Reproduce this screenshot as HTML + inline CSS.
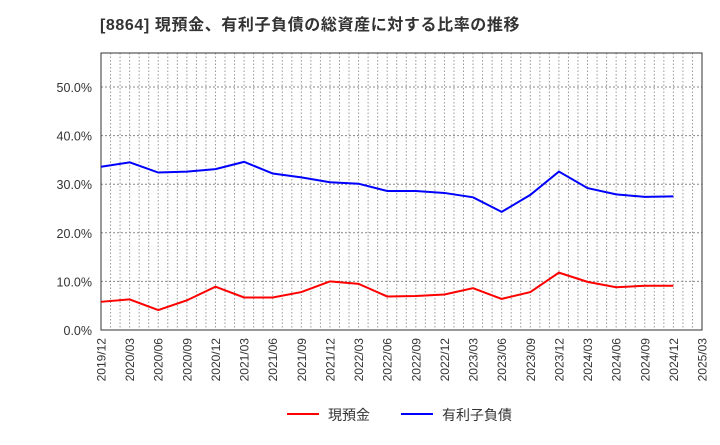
<!DOCTYPE html>
<html><head><meta charset="utf-8"><style>
body{margin:0;background:#fff;font-family:"Liberation Sans","Noto Sans CJK JP",sans-serif;}
</style></head><body>
<svg id="c" width="720" height="440" xmlns="http://www.w3.org/2000/svg">
<text x="100" y="30" font-size="16" font-weight="bold" fill="#333" letter-spacing="0.6" font-family="Liberation Sans, Noto Sans CJK JP, sans-serif">[8864]  現預金、有利子負債の総資産に対する比率の推移</text>
<g id="grid"></g><g id="axes"></g><g id="series"></g>
<g>
<line x1="287" y1="414" x2="319" y2="414" stroke="#f00" stroke-width="2"/>
<text x="328" y="420" font-size="14" fill="#333">現預金</text>
<line x1="401" y1="414" x2="433" y2="414" stroke="#00f" stroke-width="2"/>
<text x="442" y="420" font-size="14" fill="#333">有利子負債</text>
</g>
</svg>
<script>
const categories=["2019/12","2020/03","2020/06","2020/09","2020/12","2021/03","2021/06","2021/09","2021/12","2022/03","2022/06","2022/09","2022/12","2023/03","2023/06","2023/09","2023/12","2024/03","2024/06","2024/09","2024/12","2025/03"];
const cashRatio=[5.8,6.3,4.1,6.1,8.9,6.7,6.7,7.8,10.0,9.5,6.9,7.0,7.3,8.6,6.4,7.8,11.8,9.9,8.8,9.1,9.1];
const debtRatio=[33.6,34.5,32.4,32.6,33.1,34.6,32.2,31.4,30.4,30.1,28.6,28.6,28.2,27.3,24.3,27.8,32.6,29.2,27.9,27.4,27.5];
const yTicks=[0,10,20,30,40,50];
const L=101,R=702,T=53,B=330;
const x=i=>L+(R-L)*i/(categories.length-1);
const y=v=>B-(B-87)*v/50;
const NS="http://www.w3.org/2000/svg";
function mk(tag,attrs,parent){const e=document.createElementNS(NS,tag);for(const k in attrs)e.setAttribute(k,attrs[k]);document.getElementById(parent).appendChild(e);return e;}
for(let m=1;m<(categories.length-1)*3;m++){const xx=L+(R-L)*m/((categories.length-1)*3);
const g=mk('line',{x1:xx,x2:xx,y1:T,y2:B,stroke:'#999','stroke-dasharray':'1.5,2','stroke-width':1},'grid');

}
yTicks.forEach(t=>{if(t>0){const g=mk('line',{x1:L,x2:R,y1:y(t),y2:y(t),stroke:'#888','stroke-dasharray':'2,2'},'grid');

}
const tx=mk('text',{x:92,y:y(t)+5,'font-size':12.5,fill:'#333','text-anchor':'end'},'axes');tx.textContent=t.toFixed(1)+'%';

});
const box=mk('rect',{x:L,y:T,width:R-L,height:B-T,fill:'none',stroke:'#333','stroke-width':1},'axes');


categories.forEach((c,i)=>{const tx=mk('text',{x:0,y:0,'font-size':12,fill:'#333','text-anchor':'end',transform:`translate(${x(i)+4.5},${B+8}) rotate(-90)`},'axes');tx.textContent=c;

});
function line(d,col,name){const p=mk('polyline',{points:d.map((v,i)=>x(i)+','+y(v)).join(' '),fill:'none',stroke:col,'stroke-width':2},'series');

}
line(cashRatio,'#f00','cash-ratio-line');
line(debtRatio,'#00f','debt-ratio-line');
</script>
</body></html>
